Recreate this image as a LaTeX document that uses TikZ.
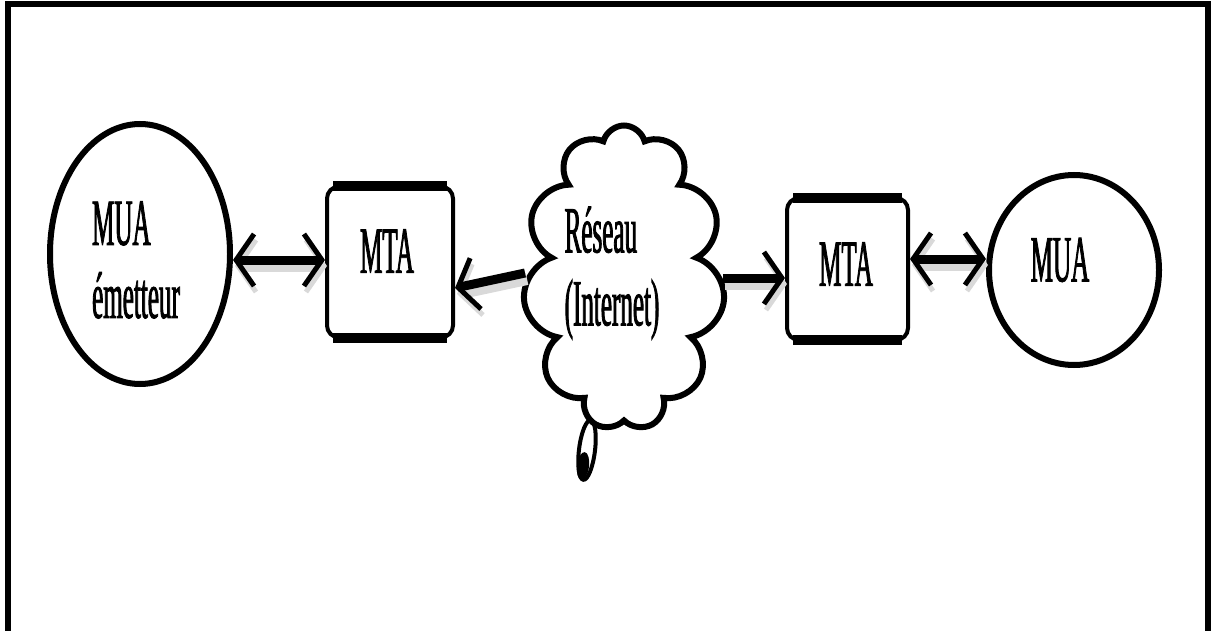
\documentclass[tikz,border=0pt]{standalone}
\usepackage{fontspec}
\newfontfamily\narrowfont[FakeStretch=0.38,FakeBold=1.2]{Liberation Serif}
\usetikzlibrary{shapes.geometric,shapes.symbols,arrows.meta}

\begin{document}
\begin{tikzpicture}[x=1pt, y=-1pt,
      >={Straight Barb[length=18pt, width=52pt, line width=5pt]},
      agent/.style ={ellipse, draw, line width=6pt, inner sep=0pt},
      relay/.style ={rectangle, rounded corners=12pt, draw, line width=4pt, inner sep=0pt},
      tag/.style ={font=\narrowfont\fontsize{66}{73}\selectfont, align=left, inner sep=0pt},
      link/.style ={line width=9pt,
         preaction={draw=black!15, line width=12pt, transform canvas={xshift=2pt, yshift=-6pt}}}]
   \useasboundingbox (0,0) rectangle (1212,631);
   \draw[line width=6pt] (8,631) -- (8,4.5) -- (1208,4.5) -- (1208,631);

   \node[agent, minimum width=180pt, minimum height=260pt] (muaA) at (140,254) {};
   \node[relay, minimum width=126pt, minimum height=151pt] (mtaA) at (390,262) {};
   \node[cloud, cloud puffs=11, cloud ignores aspect, draw, line width=6pt,
         minimum width=202pt, minimum height=305pt] (net) at (624,278) {};
   \node[relay, minimum width=121pt, minimum height=142pt] (mtaB) at (847.5,269) {};
   \node[agent, minimum width=170pt, minimum height=190pt] (muaB) at (1074,270) {};

   % thick top and bottom edges of the MTA boxes
   \foreach \n in {mtaA,mtaB}{
      \draw[line width=10pt] ([xshift=8pt,yshift=-2pt]\n.north west) -- ([xshift=-8pt,yshift=-2pt]\n.north east);
      \draw[line width=10pt] ([xshift=8pt,yshift=2pt]\n.south west) -- ([xshift=-8pt,yshift=2pt]\n.south east);
   }

   % tail of the cloud
   \draw[line width=4pt, rotate around={-7:(587,450)}] (587,450) ellipse [x radius=8pt, y radius=30pt];
   \fill[rotate around={-7:(583,466)}] (583,466) ellipse [x radius=6pt, y radius=14pt];

   \node[tag] (muaAtext) at (136,260) {MUA\\émetteur};
   \node[tag] (mtaAtext) at (387,251) {MTA};
   \node[tag] (nettext)  at (612,273) {Réseau\\(Internet)};
   \node[tag] (mtaBtext) at (846,264) {MTA};
   \node[tag] (muaBtext) at (1060,260) {MUA};

   \draw[link, <->] ([yshift=-6pt]muaA.east) -- ([yshift=-6pt]muaA.east -| mtaA.west);
   \draw[link, ->] ([yshift=5pt]net.west) -- ([yshift=-26pt]mtaA.east);
   \draw[link, ->] (net.east) -- (net.east -| mtaB.west);
   \draw[link, <->] ([yshift=10pt]mtaB.east) -- ([yshift=10pt]mtaB.east -| muaB.west);

\end{tikzpicture}
\end{document}
